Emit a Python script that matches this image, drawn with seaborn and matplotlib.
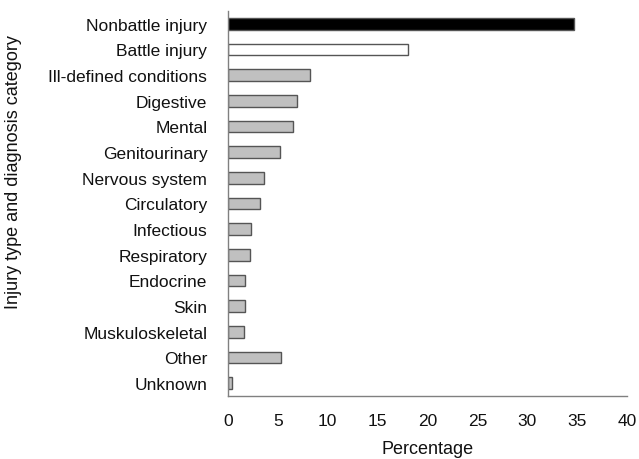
import numpy as np
import pandas as pd
import seaborn as sns
from matplotlib import pyplot as plt

# data
categories = ["Nonbattle injury", "Battle injury", "Ill-defined conditions",
              "Digestive", "Mental", "Genitourinary", "Nervous system",
              "Circulatory", "Infectious", "Respiratory", "Endocrine", "Skin",
              "Muskuloskeletal", "Other", "Unknown"]
percentages = [34.7, 18.0, 8.2, 6.9, 6.5, 5.2, 3.6, 3.2, 2.3, 2.2, 1.7, 1.7,
               1.6, 5.3, 0.35]
bar_colors = ["#000000", "#ffffff"] + ["#c0c0c0"] * 13

df = pd.DataFrame({"Category": categories, "Percentage": percentages})

sns.set_style("white")
plt.rcParams["font.family"] = ["Liberation Sans", "DejaVu Sans"]

fig = plt.figure(figsize=(6.39, 4.6), dpi=100)
ax = fig.add_axes([0.357, 0.137, 0.624, 0.837])

sns.barplot(data=df, x="Percentage", y="Category", hue="Category",
            palette=bar_colors, legend=False, width=0.45,
            edgecolor="#555555", linewidth=1.0, ax=ax)

ax.set_xlim(0, 40)
ax.set_ylim(len(categories) - 0.5, -0.5)
ax.set_xticks(np.arange(0, 41, 5))
# tick marks sit between the categories
ax.set_yticks(np.arange(-0.5, len(categories), 1), minor=True)
ax.tick_params(axis="y", which="major", length=0, labelsize=12.5, pad=15,
               labelcolor="#111111")
ax.tick_params(axis="y", which="minor", direction="out", length=4,
               color="#808080", width=1)
ax.tick_params(axis="x", direction="out", length=4, color="#808080",
               labelsize=12.5, pad=8, labelcolor="#111111")

sns.despine(ax=ax)
for side in ["left", "bottom"]:
    ax.spines[side].set_color("#808080")
    ax.spines[side].set_linewidth(1)

ax.set_xlabel("Percentage", fontsize=13, labelpad=9, color="#111111")
ax.set_ylabel("Injury type and diagnosis category", fontsize=13,
              color="#111111")
ax.yaxis.set_label_coords(-0.518, 0.584)

fig.savefig("out.png", dpi=100)
